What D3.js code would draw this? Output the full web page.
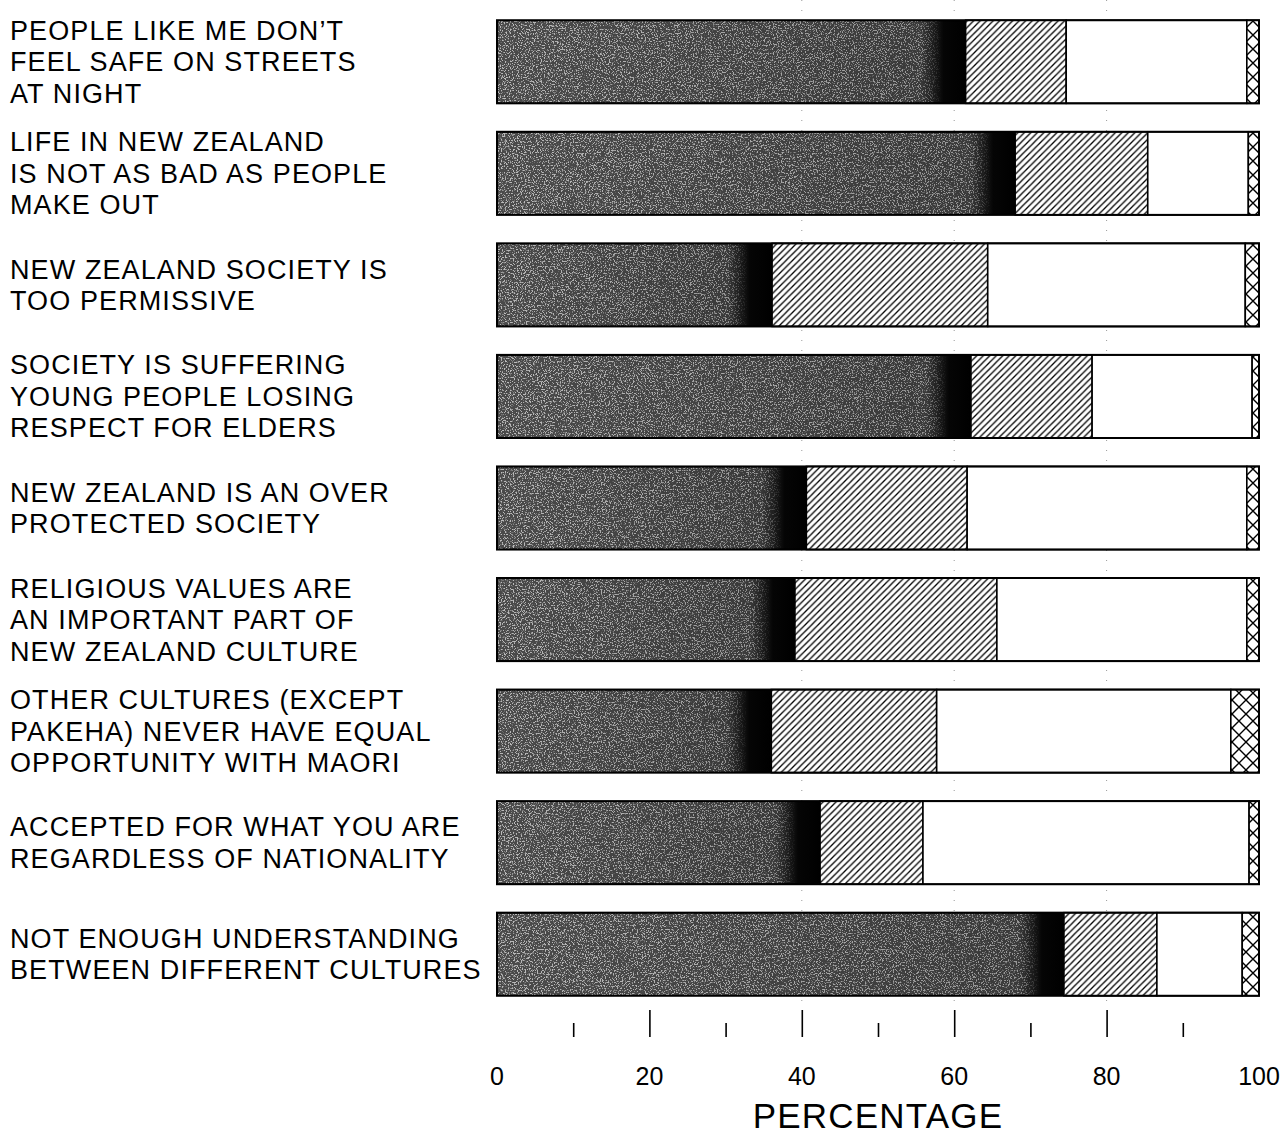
<!DOCTYPE html>
<html>
<head>
<meta charset="utf-8">
<script src="https://cdn.jsdelivr.net/npm/d3@7"></script>
<style>
  html, body { margin: 0; padding: 0; background: #fff; }
  svg { display: block; }
  text { font-family: "Liberation Sans", Arial, Helvetica, sans-serif; fill: #000; }
</style>
</head>
<body>
<svg id="chart" width="1285" height="1134"></svg>
<script>
// ---------- data ----------
const categories = [
  ["PEOPLE LIKE ME DON\u2019T", "FEEL SAFE ON STREETS", "AT NIGHT"],
  ["LIFE IN NEW ZEALAND", "IS NOT AS BAD AS PEOPLE", "MAKE OUT"],
  ["NEW ZEALAND SOCIETY IS", "TOO PERMISSIVE"],
  ["SOCIETY IS SUFFERING", "YOUNG PEOPLE LOSING", "RESPECT FOR ELDERS"],
  ["NEW ZEALAND IS AN OVER", "PROTECTED SOCIETY"],
  ["RELIGIOUS VALUES ARE", "AN IMPORTANT PART OF", "NEW ZEALAND CULTURE"],
  ["OTHER CULTURES (EXCEPT", "PAKEHA) NEVER HAVE EQUAL", "OPPORTUNITY WITH MAORI"],
  ["ACCEPTED FOR WHAT YOU ARE", "REGARDLESS OF NATIONALITY"],
  ["NOT ENOUGH UNDERSTANDING", "BETWEEN DIFFERENT CULTURES"]
];
const agree      = [61.5, 68.0, 36.1, 62.2, 40.6, 39.1, 36.0, 42.4, 74.4];
const neutral    = [13.2, 17.4, 28.3, 15.9, 21.1, 26.5, 21.7, 13.5, 12.2];
const disagree   = [23.7, 13.2, 33.8, 21.0, 36.7, 32.8, 38.6, 42.8, 11.2];
const noResponse = [ 1.6,  1.4,  1.8,  0.9,  1.6,  1.6,  3.7,  1.3,  2.2];
const seriesKeys = ["agree", "neutral", "disagree", "noResponse"];
const majorTicks = [20, 40, 60, 80];
const minorTicks = [10, 30, 50, 70, 90];
const tickLabels = [0, 20, 40, 60, 80, 100];
const gridTicks  = [40, 60, 80];
const axisTitle  = "PERCENTAGE";

// ---------- setup ----------
const svg = d3.select("#chart");
const rows = categories.map((c, i) => ({
  id: i, agree: agree[i], neutral: neutral[i], disagree: disagree[i], noResponse: noResponse[i]
}));

const x = d3.scaleLinear().domain([0, 100]).range([497, 1259]);
const y = d3.scaleBand().domain(d3.range(categories.length)).range([6, 1010])
  .paddingInner(0.255).paddingOuter(0.1275);

const defs = svg.append("defs");

// diagonal hatch
const hs = 6.5;
defs.append("pattern").attr("id", "hatch").attr("patternUnits", "userSpaceOnUse")
  .attr("width", hs).attr("height", hs)
  .call(p => {
    p.append("rect").attr("width", hs).attr("height", hs).attr("fill", "#fff");
    p.append("path")
      .attr("d", `M0,${hs} L${hs},0 M${-hs/2},${hs/2} L${hs/2},${-hs/2} M${hs/2},${hs*1.5} L${hs*1.5},${hs/2}`)
      .attr("stroke", "#000").attr("stroke-width", 1.3);
  });

// cross hatch
const cs = 14;
defs.append("pattern").attr("id", "cross").attr("patternUnits", "userSpaceOnUse")
  .attr("width", cs).attr("height", cs)
  .call(p => {
    p.append("rect").attr("width", cs).attr("height", cs).attr("fill", "#fff");
    p.append("path").attr("d", `M0,0 L${cs},${cs} M${cs},0 L0,${cs}`)
      .attr("stroke", "#000").attr("stroke-width", 1.4);
  });

// speckle filter
const f = defs.append("filter").attr("id", "speckle")
  .attr("x", 0).attr("y", 0).attr("width", 1).attr("height", 1)
  .attr("color-interpolation-filters", "sRGB");
f.append("feTurbulence").attr("type", "fractalNoise").attr("baseFrequency", 0.75)
  .attr("numOctaves", 2).attr("seed", 7).attr("result", "noise");
f.append("feColorMatrix").attr("in", "noise").attr("type", "matrix")
  .attr("values", "0 0 0 0 0.8  0 0 0 0 0.8  0 0 0 0 0.8  8 0 0 0 -4.2").attr("result", "dots");
f.append("feColorMatrix").attr("in", "SourceGraphic").attr("type", "matrix")
  .attr("values", "0 0 0 0 0  0 0 0 0 0  0 0 0 0 0  3.5 0 0 0 -0.15").attr("result", "lum");
f.append("feComposite").attr("in", "dots").attr("in2", "lum").attr("operator", "in").attr("result", "dotsMasked");
const fm = f.append("feMerge");
fm.append("feMergeNode").attr("in", "SourceGraphic");
fm.append("feMergeNode").attr("in", "dotsMasked");

// per-bar gradients for dark segment
rows.forEach(d => {
  const x0 = x(0), x1 = x(d.agree), w = x1 - x0;
  const g = defs.append("linearGradient").attr("id", "dark" + d.id)
    .attr("gradientUnits", "userSpaceOnUse")
    .attr("x1", x0).attr("x2", x1).attr("y1", 0).attr("y2", 0);
  g.append("stop").attr("offset", 0).attr("stop-color", "#4a4a4a");
  g.append("stop").attr("offset", Math.max(0, 1 - 45 / w)).attr("stop-color", "#3a3a3a");
  g.append("stop").attr("offset", Math.max(0, 1 - 22 / w)).attr("stop-color", "#050505");
  g.append("stop").attr("offset", 1).attr("stop-color", "#000");
});

// gridlines (faint dotted)
svg.append("g").selectAll("line").data(gridTicks).join("line")
  .attr("x1", d => x(d)).attr("x2", d => x(d))
  .attr("y1", 0).attr("y2", 1005)
  .attr("stroke", "#9a9a9a").attr("stroke-width", 1)
  .attr("stroke-dasharray", "1 9");

// stacked bars
const stack = d3.stack().keys(seriesKeys)(rows);
const fills = {
  agree: d => `url(#dark${d.data.id})`,
  neutral: () => "url(#hatch)",
  disagree: () => "#fff",
  noResponse: () => "url(#cross)"
};
const gBars = svg.append("g");
stack.forEach(layer => {
  gBars.append("g").attr("class", layer.key)
    .selectAll("rect").data(layer).join("rect")
    .attr("x", d => x(d[0]))
    .attr("y", d => y(d.data.id))
    .attr("width", d => x(d[1]) - x(d[0]))
    .attr("height", y.bandwidth())
    .attr("fill", fills[layer.key])
    .attr("filter", layer.key === "agree" ? "url(#speckle)" : null)
    .attr("stroke", "#000").attr("stroke-width", 1.6);
});
// outer outline
gBars.append("g").selectAll("rect").data(rows).join("rect")
  .attr("x", x(0)).attr("y", d => y(d.id))
  .attr("width", x(100) - x(0)).attr("height", y.bandwidth())
  .attr("fill", "none").attr("stroke", "#000").attr("stroke-width", 2);

// category labels
const lineH = 31.5;
const gLab = svg.append("g");
categories.forEach((lines, i) => {
  const cy = y(i) + y.bandwidth() / 2;
  const n = lines.length;
  const t = gLab.append("text")
    .attr("x", 10)
    .attr("font-size", 27)
    .attr("letter-spacing", 1.1);
  lines.forEach((ln, j) => {
    t.append("tspan").attr("x", 10)
      .attr("y", cy + 9.5 + (j - (n - 1) / 2) * lineH)
      .text(ln);
  });
});

// axis: ticks pointing upward, no domain line
const axisY = 1037;
const gMaj = svg.append("g").attr("transform", `translate(0,${axisY})`)
  .call(d3.axisTop(x).tickValues(majorTicks).tickSize(27).tickFormat(""));
const gMin = svg.append("g").attr("transform", `translate(0,${axisY})`)
  .call(d3.axisTop(x).tickValues(minorTicks).tickSize(14).tickFormat(""));
[gMaj, gMin].forEach(g => {
  g.select(".domain").remove();
  g.selectAll(".tick line").attr("stroke", "#000").attr("stroke-width", 1.6);
});

// tick labels
svg.append("g").selectAll("text").data(tickLabels).join("text")
  .attr("x", d => x(d)).attr("y", 1085)
  .attr("text-anchor", "middle")
  .attr("font-size", 25)
  .text(d => d);

// axis title
svg.append("text")
  .attr("x", (x(0) + x(100)) / 2).attr("y", 1128)
  .attr("text-anchor", "middle")
  .attr("font-size", 35)
  .attr("letter-spacing", 1.2)
  .text(axisTitle);
</script>
</body>
</html>
